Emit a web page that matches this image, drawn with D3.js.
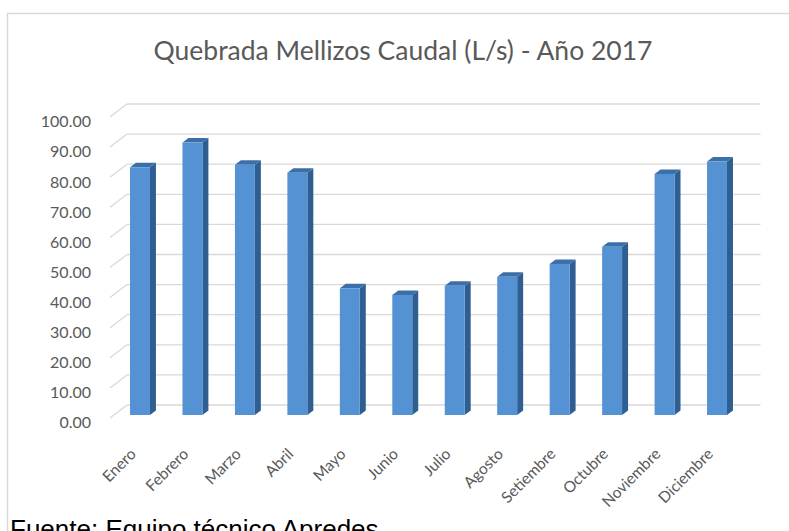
<!DOCTYPE html>
<html>
<head>
<meta charset="utf-8">
<script src="https://cdn.jsdelivr.net/npm/d3@7"></script>
<style>
  html, body { margin: 0; padding: 0; background: #ffffff; }
  svg { display: block; }
</style>
</head>
<body>
<svg id="chart" width="789" height="531"></svg>
<script>
// Monthly flow of Quebrada Mellizos, 2017 (L/s)
const months = ["Enero", "Febrero", "Marzo", "Abril", "Mayo", "Junio", "Julio",
                "Agosto", "Setiembre", "Octubre", "Noviembre", "Diciembre"];
const caudal = [82.3, 90.5, 83.1, 80.5, 42.1, 39.9, 42.9, 45.9, 50.2, 55.9, 80.1, 84.2];
const yTicks = [0, 10, 20, 30, 40, 50, 60, 70, 80, 90, 100];
const titleText = "Quebrada Mellizos Caudal (L/s) - Año 2017";
const sourceText = "Fuente: Equipo técnico Apredes";

const svg = d3.select("#chart");
const W = 789, H = 531;

svg.append("rect").attr("width", W).attr("height", H).attr("fill", "#ffffff");

// outer frame (top and left edges)
svg.append("path")
  .attr("d", "M7.5,531 V13.5 H789")
  .attr("fill", "none").attr("stroke", "#d9d9d9").attr("stroke-width", 1.5);

// title
svg.append("text")
  .attr("x", 403).attr("y", 60)
  .attr("text-anchor", "middle")
  .attr("font-family", "Lato, 'Open Sans', sans-serif")
  .attr("font-size", 26.5)
  .attr("fill", "#595959")
  .text(titleText);

// scales: bar plane
const x = d3.scaleBand().domain(months).range([97.5, 759.5]).paddingInner(0.62).paddingOuter(0.62);
const y = d3.scaleLinear().domain([0, 100]).range([415, 114]);

// oblique depth offsets
const back = { dx: 13, dy: -10 };       // bar plane -> back wall
const front = { dx: -4, dy: 3 };        // bar plane -> front edge of floor
const barDepth = { dx: 6, dy: -4.5 };   // thickness of each bar

const wallLeft = 114;                   // left edge of bar plane
const wallRight = 747.5;

const grid = svg.append("g").attr("stroke", "#d9d9d9").attr("stroke-width", 1.3).attr("fill", "none");
// back-wall gridlines
grid.selectAll("line.h").data(yTicks).join("line").attr("class", "h")
  .attr("x1", wallLeft + back.dx).attr("x2", wallRight + back.dx)
  .attr("y1", d => y(d) + back.dy).attr("y2", d => y(d) + back.dy);
// side-wall gridlines
grid.selectAll("line.s").data(yTicks).join("line").attr("class", "s")
  .attr("x1", wallLeft + front.dx).attr("y1", d => y(d) + front.dy)
  .attr("x2", wallLeft + back.dx).attr("y2", d => y(d) + back.dy);

// y axis labels
svg.append("g").selectAll("text").data(yTicks).join("text")
  .attr("x", 91).attr("y", d => y(d) + front.dy + 4.7)
  .attr("dy", "0.35em")
  .attr("text-anchor", "end")
  .attr("font-family", "Lato, 'Open Sans', sans-serif")
  .attr("font-size", 16)
  .attr("fill", "#595959")
  .text(d => d3.format(".2f")(d));

// 3D bars
const bars = svg.append("g").selectAll("g").data(months.map((m, i) => ({ m, v: caudal[i] }))).join("g");
const bw = x.bandwidth();
// side face
bars.append("path")
  .attr("fill", "#2f5f92")
  .attr("d", d => {
    const x1 = x(d.m) + bw, yt = y(d.v), yb = y(0);
    return `M${x1},${yt} L${x1 + barDepth.dx},${yt + barDepth.dy} L${x1 + barDepth.dx},${yb + barDepth.dy} L${x1},${yb} Z`;
  });
// top face
bars.append("path")
  .attr("fill", "#3b6fa8")
  .attr("d", d => {
    const x0 = x(d.m), x1 = x0 + bw, yt = y(d.v);
    return `M${x0},${yt} L${x0 + barDepth.dx},${yt + barDepth.dy} L${x1 + barDepth.dx},${yt + barDepth.dy} L${x1},${yt} Z`;
  });
// front face
bars.append("rect")
  .attr("fill", "#5592d3")
  .attr("x", d => x(d.m)).attr("width", bw)
  .attr("y", d => y(d.v)).attr("height", d => y(0) - y(d.v));

// category labels
svg.append("g").selectAll("text").data(months).join("text")
  .attr("transform", d => `translate(${x(d) + bw / 2 - 3},455) rotate(-45)`)
  .attr("text-anchor", "end")
  .attr("font-family", "Lato, 'Open Sans', sans-serif")
  .attr("font-size", 15.5)
  .attr("fill", "#595959")
  .text(d => d);

// source note
svg.append("text")
  .attr("x", 10).attr("y", 538)
  .attr("font-family", "'Liberation Sans', Arial, sans-serif")
  .attr("font-size", 26)
  .attr("fill", "#000000")
  .text(sourceText);
</script>
</body>
</html>
